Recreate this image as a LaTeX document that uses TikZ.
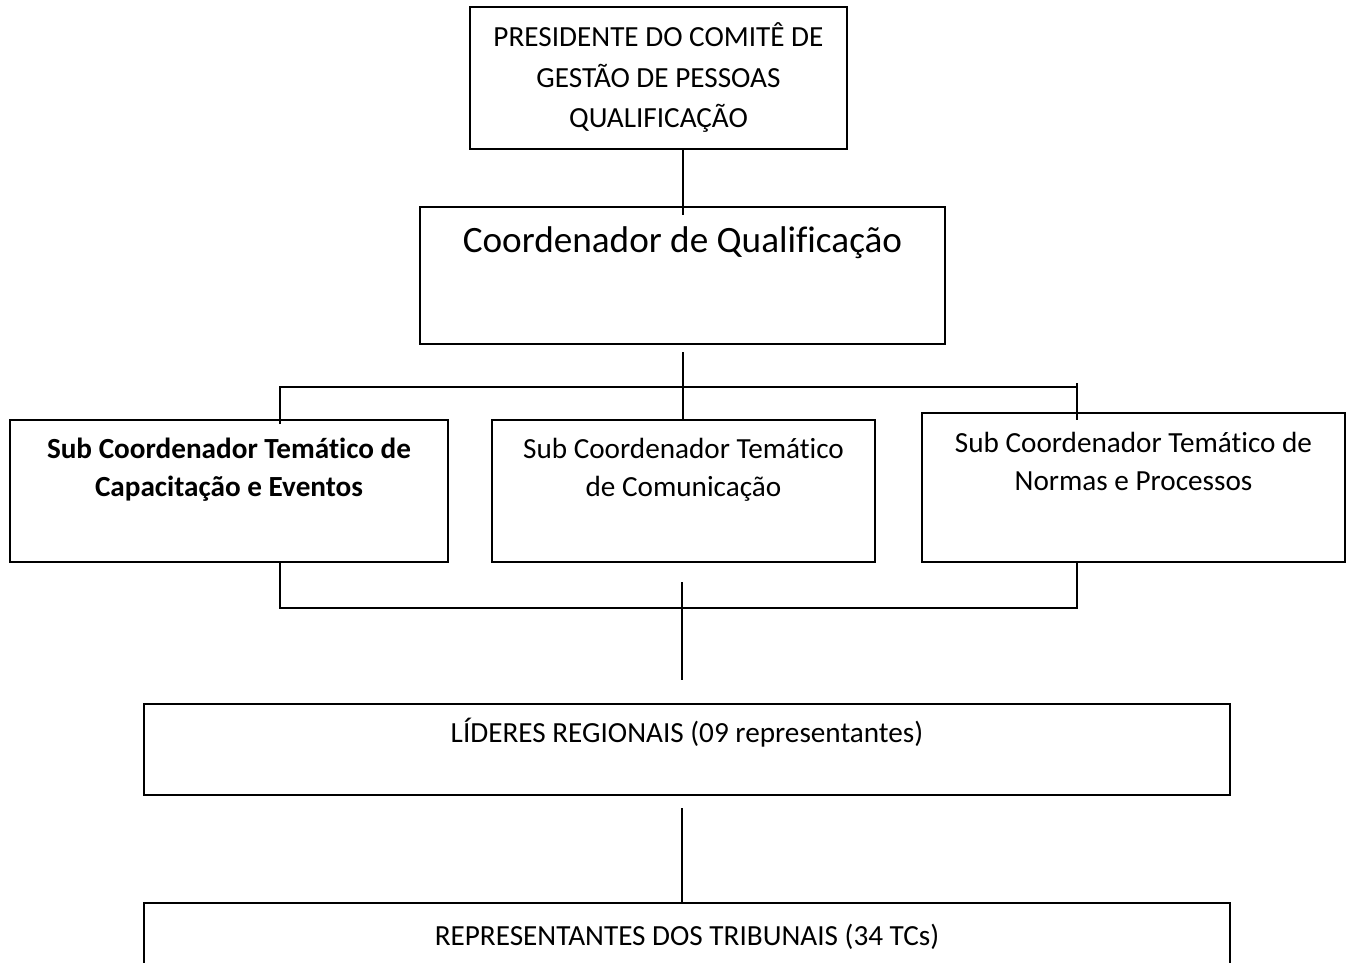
\documentclass[tikz,border=0pt]{standalone}
\usepackage{fontspec}
\setmainfont{Carlito}[RawFeature={-liga;-clig}]
\begin{document}
\begin{tikzpicture}[x=1pt,y=-1pt,
  box/.style={draw, line width=2pt, inner sep=0pt, outer sep=0pt},
  txt/.style={font=\fontsize{29.2}{40.5}\selectfont, align=center, inner sep=0pt},
  btxt/.style={font=\fontsize{29.2}{38}\selectfont\bfseries, align=center, inner sep=0pt},
  big/.style={font=\fontsize{37.2}{45}\selectfont, inner sep=0pt},
  conn/.style={line width=2pt}]
\useasboundingbox (0,0) rectangle (1355,963);

% boxes
\node[box, txt, minimum width=377pt, minimum height=142pt] (pres) at (658.5,78)
  {PRESIDENTE DO COMITÊ DE\\GESTÃO DE PESSOAS\\QUALIFICAÇÃO};
\node[box, minimum width=525pt, minimum height=137pt] (coord) at (682.5,275.5) {};
\node[big] (coordt) at (682.5,243) {Coordenador de Qualificação};

\node[box, minimum width=438pt, minimum height=142pt] (s1) at (229,491) {};
\node[btxt] (s1t) at (229,470) {Sub Coordenador Temático de\\Capacitação e Eventos};
\node[box, minimum width=383pt, minimum height=142pt] (s2) at (683.5,491) {};
\node[txt, font=\fontsize{29.2}{38}\selectfont] (s2t) at (683.5,470) {Sub Coordenador Temático\\de Comunicação};
\node[box, minimum width=423pt, minimum height=149pt] (s3) at (1133.5,487.5) {};
\node[txt, font=\fontsize{29.2}{38}\selectfont] (s3t) at (1133.5,461) {Sub Coordenador Temático de\\Normas e Processos};

\node[box, minimum width=1086pt, minimum height=91pt] (lid) at (687,749.5) {};
\node[txt] (lidt) at (687,733) {LÍDERES REGIONAIS (09 representantes)};
\node[box, minimum width=1086pt, minimum height=100pt] (rep) at (687,953) {};
\node[txt] (rept) at (687,937) {REPRESENTANTES DOS TRIBUNAIS (34 TCs)};

% connector coordinates
\coordinate (bl) at (280,387);
\coordinate (br) at (1077,387);
\coordinate (dl) at (280,608);
\coordinate (dr) at (1077,608);
\coordinate (m1) at (682,582);
\coordinate (m2) at (682,680);

% connectors
\draw[conn] (pres.south -| coord.north) -- ([yshift=-8pt]coord.north);
\draw[conn] ([yshift=-8pt]coord.south) -- (s2.north -| coord.south);
\draw[conn] ([yshift=-4pt]bl |- s1.north) -- (bl) -- (br);
\draw[conn] ([yshift=4pt]br) -- ([yshift=-7pt]br |- s3.north);
\draw[conn] (dl |- s1.south) -- (dl) -- (dr) -- (dr |- s3.south);
\draw[conn] (m1) -- (m2);
\draw[conn] ([yshift=-13pt]lid.south -| m1) -- (rep.north -| m1);
\end{tikzpicture}
\end{document}
